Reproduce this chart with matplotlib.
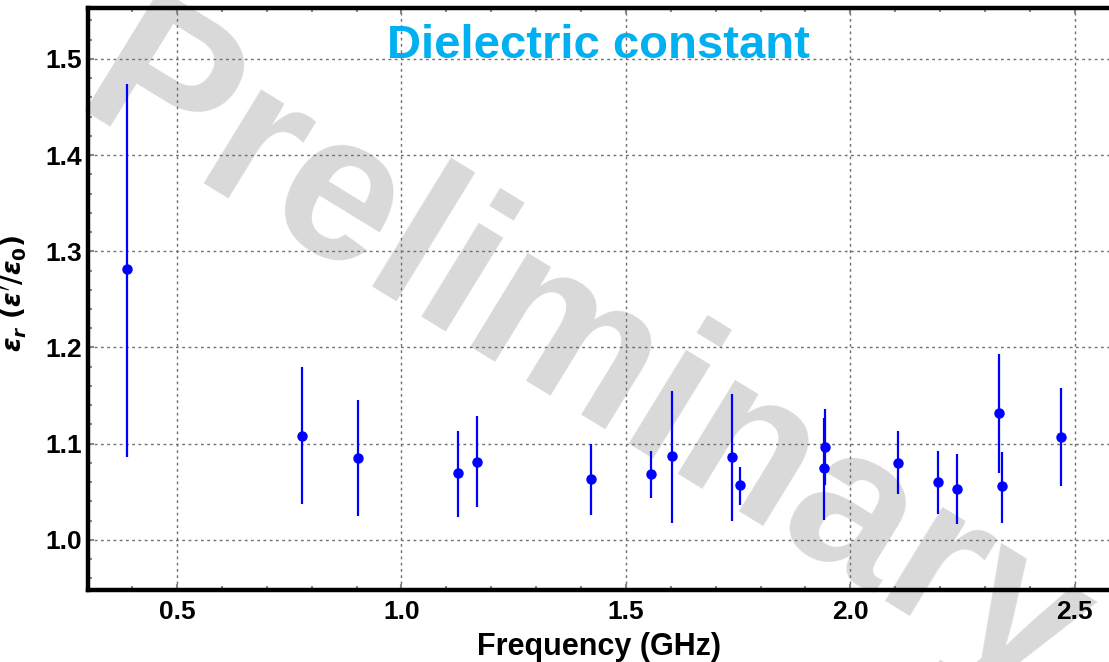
import matplotlib
matplotlib.use('Agg')
import matplotlib.pyplot as plt
from matplotlib.ticker import MultipleLocator, FormatStrFormatter

# frequency (GHz), dielectric constant, lower / upper error
freq = [0.389, 0.778, 0.904, 1.127, 1.168, 1.423, 1.556, 1.602, 1.736, 1.755,
        1.9425, 1.941, 2.107, 2.196, 2.238, 2.331, 2.337, 2.468]
eps_r = [1.282, 1.108, 1.085, 1.069, 1.081, 1.063, 1.068, 1.087, 1.086, 1.057,
         1.097, 1.0745, 1.080, 1.060, 1.053, 1.132, 1.056, 1.107]
err_lo = [0.196, 0.071, 0.060, 0.045, 0.047, 0.037, 0.024, 0.069, 0.066, 0.021,
          0.040, 0.054, 0.032, 0.033, 0.037, 0.063, 0.038, 0.051]
err_hi = [0.192, 0.072, 0.060, 0.044, 0.048, 0.037, 0.024, 0.068, 0.066, 0.019,
          0.039, 0.052, 0.033, 0.032, 0.036, 0.061, 0.035, 0.051]

plt.rcParams['font.family'] = ['Liberation Sans', 'DejaVu Sans']
plt.rcParams['font.weight'] = 'bold'

fig = plt.figure(figsize=(11.09, 6.62), dpi=100)
ax = fig.add_axes([0.0794, 0.109, 0.9206, 0.879])

# watermark, behind everything in the axes
ax.text(70/1109, 1 - 110/662, 'Preliminary', transform=fig.transFigure,
        fontsize=150, fontweight='bold', color='#d9d9d9', rotation=-31.5,
        rotation_mode='anchor', ha='left', va='baseline', zorder=0.1,
        clip_on=False)

ax.errorbar(freq, eps_r, yerr=[err_lo, err_hi], fmt='o', color='#0000ff',
            ms=6.5, elinewidth=1.6, capsize=0, zorder=3)

ax.set_xlim(0.302, 2.576)
ax.set_ylim(0.948, 1.553)
ax.xaxis.set_major_locator(MultipleLocator(0.5))
ax.xaxis.set_minor_locator(MultipleLocator(0.1))
ax.yaxis.set_major_locator(MultipleLocator(0.1))
ax.yaxis.set_minor_locator(MultipleLocator(0.02))
ax.xaxis.set_major_formatter(FormatStrFormatter('%.1f'))
ax.yaxis.set_major_formatter(FormatStrFormatter('%.1f'))

ax.grid(True, which='major', color='#707070', linestyle=(0, (2, 2.5)), linewidth=1.0)
ax.set_axisbelow(True)

for s in ['left', 'bottom', 'top']:
    ax.spines[s].set_linewidth(3.2)
    ax.spines[s].set_color('black')
ax.spines['right'].set_visible(False)

ax.tick_params(which='both', direction='in', color='#888888', width=1.5,
               top=True, right=False, labelsize=19, pad=7)
ax.tick_params(which='major', length=4)
ax.tick_params(which='minor', length=3)
ax.tick_params(axis='y', pad=4)

ax.set_xlabel('Frequency (GHz)', fontsize=22, fontweight='bold', labelpad=6)
ax.set_ylabel(r"$\boldsymbol{\epsilon_r\ (\epsilon'/\epsilon_0)}$", fontsize=19)
ax.yaxis.set_label_coords(-0.058, 0.51)

ax.text(0.5, 0.935, 'Dielectric constant', transform=ax.transAxes,
        fontsize=34, fontweight='bold', color='#00b0f0', ha='center', va='center',
        zorder=4)

fig.savefig('out.png', dpi=100)
